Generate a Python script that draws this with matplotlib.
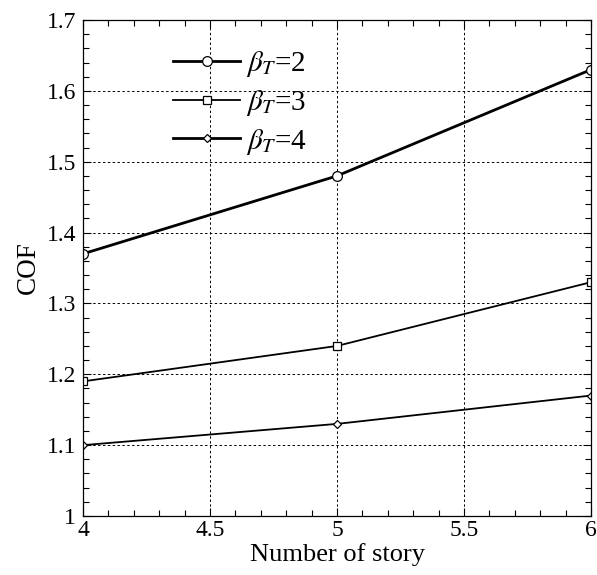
import matplotlib
matplotlib.use("Agg")
import matplotlib.pyplot as plt
from matplotlib.ticker import MultipleLocator

plt.rcParams["font.family"] = "Liberation Serif"
plt.rcParams["mathtext.fontset"] = "stix"

stories = [4, 5, 6]
cof_b2 = [1.37, 1.48, 1.63]
cof_b3 = [1.19, 1.24, 1.33]
cof_b4 = [1.10, 1.13, 1.17]
labels = [r"$\beta_T$=2", r"$\beta_T$=3", r"$\beta_T$=4"]

fig = plt.figure(figsize=(5.97, 5.75), dpi=100)
ax = fig.add_axes([0.139, 0.1026, 0.851, 0.8626])

ax.plot(stories, cof_b2, "k-", lw=2.0, marker="o", ms=7, mfc="white", mew=0.9, label=labels[0])
ax.plot(stories, cof_b3, "k-", lw=1.3, marker="s", ms=6, mfc="white", mew=0.9, label=labels[1])
ax.plot(stories, cof_b4, "k-", lw=1.3, marker="D", ms=4, mfc="white", mew=0.9, label=labels[2])

ax.set_xlim(4, 6)
ax.set_ylim(1, 1.7)
ax.xaxis.set_minor_locator(MultipleLocator(0.1))
ax.yaxis.set_minor_locator(MultipleLocator(0.02))
ax.set_yticks([1, 1.1, 1.2, 1.3, 1.4, 1.5, 1.6, 1.7])
ax.set_yticklabels(["1", "1.1", "1.2", "1.3", "1.4", "1.5", "1.6", "1.7"])
ax.set_xticks([4, 4.5, 5, 5.5, 6])
ax.set_xticklabels(["4", "4.5", "5", "5.5", "6"])

ax.tick_params(which="both", direction="in", top=True, right=True, labelsize=17, width=0.8)
ax.tick_params(which="major", length=6, pad=5)
ax.tick_params(axis="x", which="major", pad=3)
ax.tick_params(which="minor", length=4)
ax.grid(True, which="major", ls=(0, (2.5, 2.5)), color="k", lw=0.7)
for s in ax.spines.values():
    s.set_linewidth(0.9)

ax.set_xlabel("Number of story", fontsize=19, labelpad=1)
ax.set_ylabel("COF", fontsize=19.5, labelpad=4)

leg = ax.legend(loc="upper left", bbox_to_anchor=(0.155, 0.965), frameon=False,
                fontsize=21, handlelength=2.3, labelspacing=0.3, handletextpad=0.2,
                borderaxespad=0)
leg.get_lines()[2].set_linewidth(2.0)

fig.savefig("out.png", dpi=100)
